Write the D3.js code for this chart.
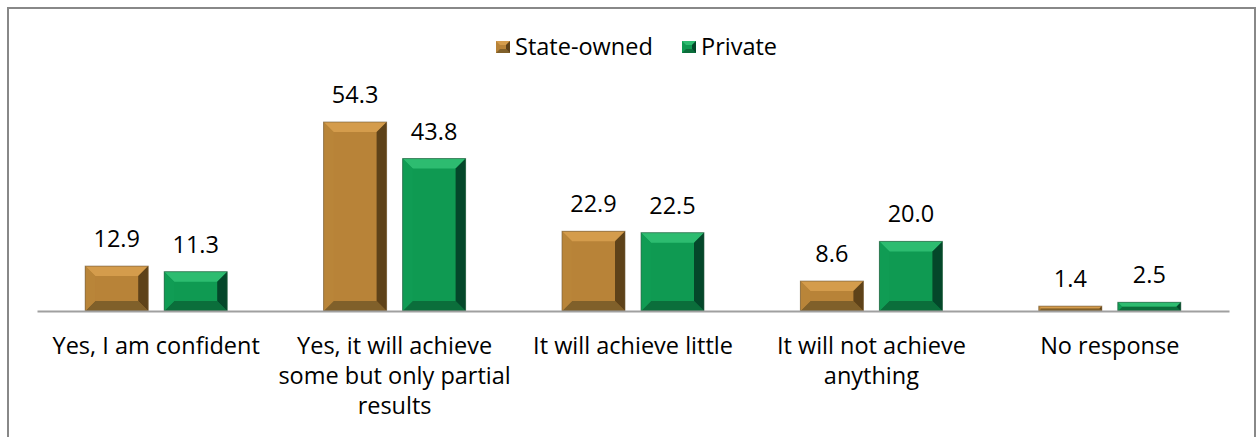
<!DOCTYPE html>
<html><head><meta charset="utf-8">
<script src="https://cdn.jsdelivr.net/npm/d3@7"></script>
<style>
html,body{margin:0;padding:0;background:#fff;}
svg{display:block;font-family:"Open Sans",Lato,sans-serif;}
</style></head>
<body>
<svg id="chart" width="1257" height="437"></svg>
<script>
const categories = [["Yes, I am confident"], ["Yes, it will achieve","some but only partial","results"], ["It will achieve little"], ["It will not achieve","anything"], ["No response"]];
const seriesNames = ["State-owned", "Private"];
const stateOwned = [12.9, 54.3, 22.9, 8.6, 1.4];
const privateVals = [11.3, 43.8, 22.5, 20.0, 2.5];

const palettes = {
  "State-owned": {base:"#B88338", top:"#D49C4C", left:"#B98539", right:"#5E4219", bottom:"#80602A", edge:"#6f5a3a"},
  "Private": {base:"#0F9A52", top:"#2DBC70", left:"#109C54", right:"#04472A", bottom:"#0B6E3B", edge:"#2f5a42"}
};
const FS = 23.5;

const svg = d3.select("#chart");
// outer border
svg.append("rect").attr("x",8).attr("y",8).attr("width",1247).attr("height",440)
  .attr("fill","none").attr("stroke","#888").attr("stroke-width",2);

const x0 = d3.scaleBand().domain(d3.range(categories.length)).range([37,1229]);
const x1 = d3.scaleBand().domain(seriesNames).range([0,x0.bandwidth()]).paddingInner(0.2025).paddingOuter(0.61);
const y = d3.scaleLinear().domain([0,54.3]).range([311,122]);

const data = [];
categories.forEach((c,i)=>{
  data.push({i, s:"State-owned", v:stateOwned[i]});
  data.push({i, s:"Private", v:privateVals[i]});
});

const g = svg.append("g");
data.forEach(d=>{
  const x = x0(d.i)+x1(d.s), w = x1.bandwidth();
  const yt = y(d.v), h = y(0)-yt;
  const b = Math.min(10, h/2, w/2);
  const p = palettes[d.s];
  const bar = g.append("g");
  bar.append("rect").attr("x",x).attr("y",yt).attr("width",w).attr("height",h).attr("fill",p.base);
  const poly = (pts,fill)=>bar.append("polygon").attr("points",pts.map(q=>q.join(",")).join(" ")).attr("fill",fill);
  poly([[x,yt],[x+w,yt],[x+w-b,yt+b],[x+b,yt+b]], p.top);
  poly([[x,yt+h],[x+w,yt+h],[x+w-b,yt+h-b],[x+b,yt+h-b]], p.bottom);
  poly([[x,yt],[x+b,yt+b],[x+b,yt+h-b],[x,yt+h]], p.left);
  poly([[x+w,yt],[x+w-b,yt+b],[x+w-b,yt+h-b],[x+w,yt+h]], p.right);
  bar.append("rect").attr("x",x).attr("y",yt).attr("width",w).attr("height",h)
    .attr("fill","none").attr("stroke",p.edge).attr("stroke-opacity",0.6).attr("stroke-width",1);
  g.append("text").attr("x",x+w/2).attr("y",yt-19).attr("text-anchor","middle")
    .attr("font-size",FS).attr("fill","#000").text(d.v.toFixed(1));
});

// axis
const axis = d3.axisBottom(x0).tickSize(0).tickFormat("");
const ax = svg.append("g").attr("transform","translate(0,311)").call(axis);
ax.select(".domain").attr("stroke","#a0a0a0").attr("stroke-width",2);
categories.forEach((lines,i)=>{
  const cx = x0(i)+x0.bandwidth()/2;
  const t = svg.append("text").attr("x",cx).attr("y",354)
    .attr("text-anchor","middle").attr("font-size",FS).attr("fill","#000");
  lines.forEach((l,j)=>t.append("tspan").attr("x",cx).attr("dy",j?30:0).text(l));
});

// legend
const legend = svg.append("g");
const legItems = [{s:"State-owned", x:496},{s:"Private", x:682}];
legItems.forEach(it=>{
  const p = palettes[it.s];
  const sx = it.x, sy = 41, sw = 14, sh = 12, b=4;
  legend.append("rect").attr("x",sx).attr("y",sy).attr("width",sw).attr("height",sh).attr("fill",p.base);
  const poly=(pts,fill)=>legend.append("polygon").attr("points",pts.map(q=>q.join(",")).join(" ")).attr("fill",fill);
  poly([[sx,sy],[sx+sw,sy],[sx+sw-b,sy+b],[sx+b,sy+b]],p.top);
  poly([[sx,sy+sh],[sx+sw,sy+sh],[sx+sw-b,sy+sh-b],[sx+b,sy+sh-b]],p.bottom);
  poly([[sx+sw,sy],[sx+sw-b,sy+b],[sx+sw-b,sy+sh-b],[sx+sw,sy+sh]],p.right);
  legend.append("text").attr("x",sx+19).attr("y",55).attr("font-size",FS).attr("fill","#000").text(it.s);
});
</script>
</body></html>
